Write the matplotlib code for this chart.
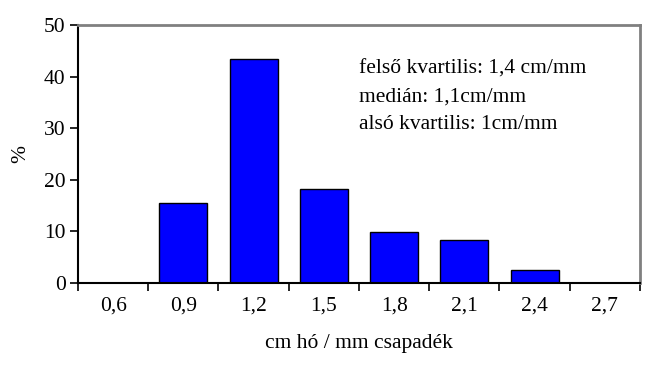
import matplotlib.pyplot as plt

plt.rcParams['font.family'] = ['Liberation Serif', 'DejaVu Serif']

# adatok
categories = ['0,6', '0,9', '1,2', '1,5', '1,8', '2,1', '2,4', '2,7']
percent = [0, 15.5, 43.5, 18.3, 9.8, 8.4, 2.6, 0]
notes = ['felső kvartilis: 1,4 cm/mm', 'medián: 1,1cm/mm', 'alsó kvartilis: 1cm/mm']

fig = plt.figure(figsize=(6.5, 3.65), dpi=100)
ax = fig.add_axes([0.12, 0.2247, 0.8646, 0.7068])

x = list(range(len(categories)))
ax.bar(x, percent, width=0.68, color='#0000ff', edgecolor='black', linewidth=1)

ax.set_xlim(-0.5, len(categories) - 0.5)
ax.set_ylim(0, 50)
ax.set_yticks([0, 10, 20, 30, 40, 50])

# kategória határok a tick-ek
ax.set_xticks([i - 0.5 for i in range(len(categories) + 1)])
ax.set_xticklabels([])
ax.set_xticks(x, minor=True)
ax.set_xticklabels(categories, minor=True)
ax.tick_params(axis='x', which='minor', length=0, pad=10, labelsize=15.5)
ax.tick_params(axis='x', which='major', direction='out', length=6, width=1.2, color='black')
ax.tick_params(axis='y', direction='out', length=6, width=1.2, labelsize=15.5, pad=3)

for s in ['left', 'bottom']:
    ax.spines[s].set_color('black')
    ax.spines[s].set_linewidth(1.5)
for s in ['top', 'right']:
    ax.spines[s].set_color('#808080')
    ax.spines[s].set_linewidth(2)

ax.set_ylabel('%', fontsize=15.5, labelpad=10)
ax.set_xlabel('cm hó / mm csapadék', fontsize=15.5, labelpad=13)

for i, t in enumerate(notes):
    ax.text(0.5, 0.829 - i * 0.107, t, transform=ax.transAxes, fontsize=15.5, va='center', ha='left')

fig.savefig('out.png', dpi=100)
